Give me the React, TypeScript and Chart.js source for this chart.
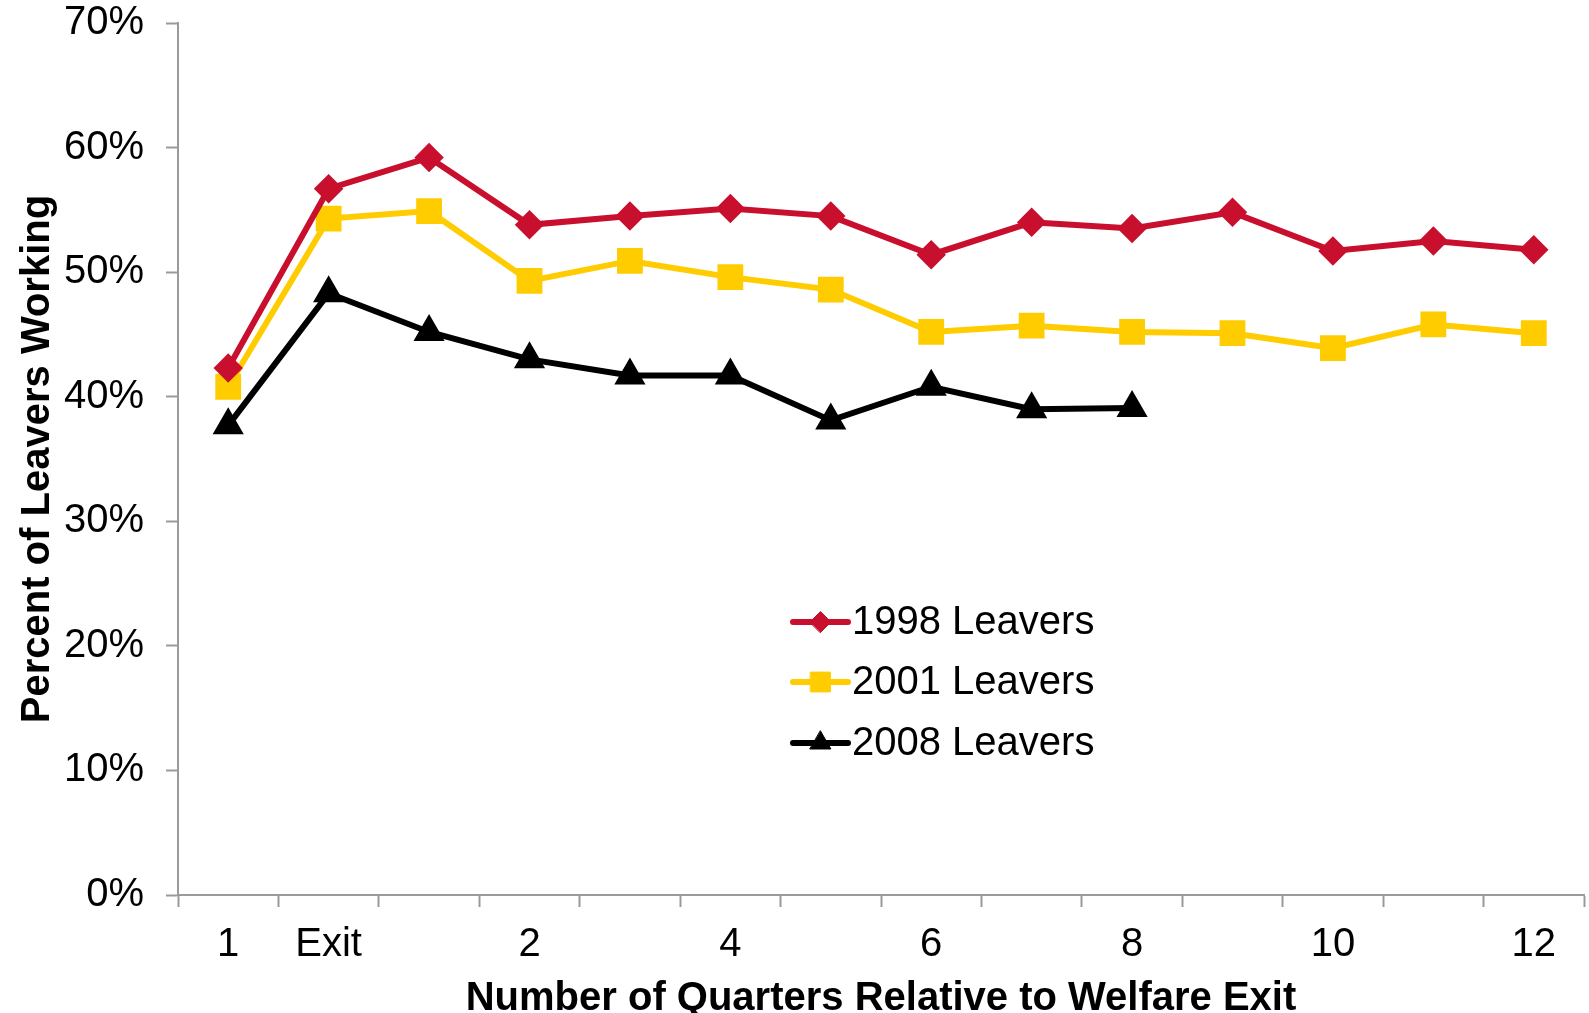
import { useEffect, useRef } from "react";
import { Chart, registerables } from "chart.js";
import { drawPoint } from "chart.js/helpers";

Chart.register(...registerables);

// Quarters relative to welfare exit (blank slots are the unlabelled quarters)
const quarterLabels = ["1", "Exit", "", "2", "", "4", "", "6", "", "8", "", "10", "", "12"];

// Percent of leavers working, by cohort
const leavers1998 = [42.3, 56.7, 59.2, 53.8, 54.5, 55.1, 54.5, 51.4, 54.0, 53.5, 54.8, 51.7, 52.5, 51.8];
const leavers2001 = [40.8, 54.3, 54.9, 49.3, 50.9, 49.6, 48.6, 45.2, 45.7, 45.2, 45.1, 43.9, 45.8, 45.1];
const leavers2008 = [37.7, 48.3, 45.2, 43.0, 41.7, 41.7, 38.1, 40.8, 39.0, 39.1, null, null, null, null];

const seriesNames = ["1998 Leavers", "2001 Leavers", "2008 Leavers"];
const yTicks = [0, 10, 20, 30, 40, 50, 60, 70];

const RED = "#C8102E";
const GOLD = "#FFCC00";
const BLACK = "#000000";
const AXIS_GREY = "#9A9A9A";
const FONT = '"Liberation Sans", Arial, sans-serif';
const FONT_SIZE = 40;
const LINE_W = 6;

const WIDTH = 1589;
const HEIGHT = 1013;

// Legend drawn inside the plot: short line with the marker in its middle
const insetLegend = {
  id: "insetLegend",
  afterDraw(chart: any) {
    const ctx = chart.ctx as CanvasRenderingContext2D;
    const rows = [622, 682, 743];
    const lineStart = 793;
    const lineEnd = 848;
    const textX = 852;
    chart.data.datasets.forEach((ds: any, i: number) => {
      const y = rows[i];
      ctx.save();
      ctx.strokeStyle = ds.borderColor;
      ctx.lineWidth = LINE_W;
      ctx.lineCap = "round";
      ctx.beginPath();
      ctx.moveTo(lineStart, y);
      ctx.lineTo(lineEnd, y);
      ctx.stroke();
      ctx.fillStyle = ds.pointBackgroundColor;
      ctx.strokeStyle = ds.pointBorderColor;
      ctx.lineWidth = 1;
      drawPoint(
        ctx,
        { pointStyle: ds.pointStyle, rotation: 0, radius: ds.pointRadius, borderWidth: 1 },
        (lineStart + lineEnd) / 2,
        y
      );
      ctx.fillStyle = "#000";
      ctx.font = `${FONT_SIZE}px ${FONT}`;
      ctx.textBaseline = "middle";
      ctx.textAlign = "left";
      ctx.fillText(ds.label, textX, y + 1);
      ctx.restore();
    });
  },
};

export default function App() {
  const canvasRef = useRef<HTMLCanvasElement | null>(null);

  useEffect(() => {
    const canvas = canvasRef.current;
    if (!canvas) return;

    const chart = new Chart(canvas, {
      type: "line",
      data: {
        labels: quarterLabels,
        datasets: [
          {
            label: seriesNames[0],
            data: leavers1998,
            borderColor: RED,
            backgroundColor: RED,
            pointBackgroundColor: RED,
            pointBorderColor: RED,
            pointStyle: "rectRot",
            pointRadius: 10.5,
            borderWidth: LINE_W,
          },
          {
            label: seriesNames[1],
            data: leavers2001,
            borderColor: GOLD,
            backgroundColor: GOLD,
            pointBackgroundColor: GOLD,
            pointBorderColor: GOLD,
            pointStyle: "rect",
            pointRadius: 14,
            borderWidth: LINE_W,
          },
          {
            label: seriesNames[2],
            data: leavers2008,
            borderColor: BLACK,
            backgroundColor: BLACK,
            pointBackgroundColor: BLACK,
            pointBorderColor: BLACK,
            pointStyle: "triangle",
            pointRadius: 12,
            borderWidth: LINE_W,
          },
        ],
      },
      options: {
        animation: false,
        responsive: false,
        maintainAspectRatio: false,
        devicePixelRatio: 1,
        layout: { autoPadding: false, padding: { left: 0, right: 5, top: 23, bottom: 0 } },
        plugins: {
          legend: { display: false },
          tooltip: { enabled: false },
        },
        elements: { line: { tension: 0 }, point: { borderWidth: 1 } },
        scales: {
          x: {
            type: "category",
            offset: true,
            grid: {
              offset: true,
              drawOnChartArea: false,
              drawTicks: true,
              tickLength: 12,
              tickColor: AXIS_GREY,
              tickWidth: 2,
            },
            border: { display: true, color: AXIS_GREY, width: 2 },
            ticks: {
              autoSkip: false,
              maxRotation: 0,
              color: "#000",
              font: { family: FONT, size: FONT_SIZE },
              padding: 14,
            },
            title: {
              display: true,
              text: "Number of Quarters Relative to Welfare Exit",
              color: "#000",
              font: { family: FONT, size: FONT_SIZE, weight: "bold", lineHeight: 0.7 },
              padding: { top: 0, bottom: 0 },
            },
            afterFit: (scale: any) => {
              scale.height = 118;
              scale.paddingLeft = 0;
              scale.paddingRight = 0;
            },
          },
          y: {
            min: 0,
            max: 70,
            afterBuildTicks: (scale: any) => {
              scale.ticks = yTicks.map((v) => ({ value: v }));
            },
            grid: {
              drawOnChartArea: false,
              drawTicks: true,
              tickLength: 12,
              tickColor: AXIS_GREY,
              tickWidth: 2,
            },
            border: { display: true, color: AXIS_GREY, width: 2 },
            ticks: {
              color: "#000",
              font: { family: FONT, size: FONT_SIZE },
              padding: 22,
              callback: (v: any) => `${v}%`,
            },
            title: {
              display: true,
              text: "Percent of Leavers Working",
              color: "#000",
              font: { family: FONT, size: FONT_SIZE, weight: "bold" },
              padding: { top: 14, bottom: 0 },
            },
            afterFit: (scale: any) => {
              scale.width = 178;
              scale.paddingTop = 0;
              scale.paddingBottom = 0;
            },
          },
        },
      },
      plugins: [insetLegend],
    });

    return () => chart.destroy();
  }, []);

  return (
    <div style={{ position: "fixed", left: 0, top: 0, width: WIDTH, height: HEIGHT, background: "#fff" }}>
      <canvas ref={canvasRef} width={WIDTH} height={HEIGHT} style={{ display: "block" }} />
    </div>
  );
}
